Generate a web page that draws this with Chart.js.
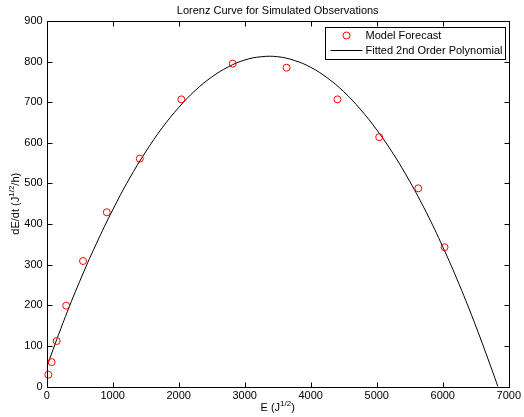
<!DOCTYPE html>
<html>
<head>
<meta charset="utf-8">
<script src="https://cdn.jsdelivr.net/npm/chart.js@4/dist/chart.umd.min.js"></script>
<style>
  html, body { margin: 0; padding: 0; background: #fff; }
  canvas { display: block; }
</style>
</head>
<body>
<canvas id="chart" width="524" height="417"></canvas>
<script>
// model forecast points
const forecastE = [25, 75, 151, 295, 550, 910, 1410, 2040, 2819, 3634, 4405, 5037, 5629, 6027]
const forecastRate = [29, 60, 112, 199, 309, 429, 561, 707, 795, 785, 707, 614, 488, 343]

// fitted curve
const fitE = [0, 250, 500, 750, 1000, 1250, 1500, 1750, 2000, 2250, 2500, 2750, 3000, 3250, 3500,
  3750, 4000, 4250, 4500, 4750, 5000, 5250, 5500, 5750, 6000, 6250, 6500, 6750, 6835]
const fitRate = [48, 158, 259, 351, 435, 511, 578, 637, 687, 729, 762, 787, 804, 812, 812,
  803, 786, 760, 726, 683, 632, 573, 505, 429, 344, 251, 149, 39, 0]

const xTicks = [0, 1000, 2000, 3000, 4000, 5000, 6000, 7000]
const yTicks = [0, 100, 200, 300, 400, 500, 600, 700, 800, 900]

const FONT = '"Liberation Sans", Arial, Helvetica, sans-serif'

function toPoints(xs, ys) {
  return xs.map((x, i) => ({ x, y: ys[i] }))
}

// draws text with a superscript part: parts = [[text, isSup], ...]
function drawRich(ctx, parts, x, y, size) {
  const supSize = Math.round(size * 0.72)
  let total = 0
  parts.forEach(([t, sup]) => {
    ctx.font = `${sup ? supSize : size}px ${FONT}`
    total += ctx.measureText(t).width
  })
  let cx = x - total / 2
  parts.forEach(([t, sup]) => {
    ctx.font = `${sup ? supSize : size}px ${FONT}`
    ctx.fillText(t, cx, sup ? y - 4 : y)
    cx += ctx.measureText(t).width
  })
}

const framePlugin = {
  id: "frame",
  afterDraw(chart) {
    const { ctx, chartArea: a, scales } = chart
    const L = Math.round(a.left) + 0.5
    const R = Math.round(a.right) + 0.5
    const T = Math.round(a.top) + 0.5
    const B = Math.round(a.bottom) + 0.5
    const tick = 5
    ctx.save()
    ctx.strokeStyle = "#000"
    ctx.lineWidth = 1
    ctx.strokeRect(L, T, R - L, B - T)
    ctx.beginPath()
    xTicks.forEach((v) => {
      const px = Math.round(scales.x.getPixelForValue(v)) + 0.5
      ctx.moveTo(px, B); ctx.lineTo(px, B - tick)
      ctx.moveTo(px, T); ctx.lineTo(px, T + tick)
    })
    yTicks.forEach((v) => {
      const py = Math.round(scales.y.getPixelForValue(v)) + 0.5
      ctx.moveTo(L, py); ctx.lineTo(L + tick, py)
      ctx.moveTo(R, py); ctx.lineTo(R - tick, py)
    })
    ctx.stroke()

    // title and axis labels
    ctx.fillStyle = "#000"
    ctx.textBaseline = "middle"
    ctx.textAlign = "center"
    ctx.font = `11px ${FONT}`
    ctx.fillText("Lorenz Curve for Simulated Observations", (a.left + a.right) / 2, 11)
    ctx.textAlign = "left"
    drawRich(ctx, [["E (J", false], ["1/2", true], [")", false]], (a.left + a.right) / 2, 408, 11)
    ctx.save()
    ctx.translate(16, (a.top + a.bottom) / 2)
    ctx.rotate(-Math.PI / 2)
    drawRich(ctx, [["dE/dt (J", false], ["1/2", true], ["/h)", false]], 0, 0, 11)
    ctx.restore()

    // legend
    const lw = 180, lh = 32
    const lx = Math.round(a.right - 3.5 - lw) + 0.5
    const ly = Math.round(a.top + 6) + 0.5
    ctx.fillStyle = "#fff"
    ctx.fillRect(lx, ly, lw, lh)
    ctx.strokeStyle = "#000"
    ctx.strokeRect(lx, ly, lw, lh)
    const ds = chart.data.datasets
    ctx.strokeStyle = "#ff0000"
    ctx.beginPath()
    ctx.arc(lx + 21, ly + 8, 3.5, 0, Math.PI * 2)
    ctx.stroke()
    ctx.strokeStyle = "#000"
    ctx.beginPath()
    ctx.moveTo(lx + 5, ly + 23); ctx.lineTo(lx + 37, ly + 23)
    ctx.stroke()
    ctx.fillStyle = "#000"
    ctx.font = `11px ${FONT}`
    ctx.textAlign = "left"
    ctx.fillText(ds[0].label, lx + 40, ly + 8.5)
    ctx.fillText(ds[1].label, lx + 40, ly + 23.5)
    ctx.restore()
  }
}

new Chart(document.getElementById("chart"), {
  type: "scatter",
  data: {
    datasets: [
      {
        label: "Model Forecast",
        data: toPoints(forecastE, forecastRate),
        pointStyle: "circle",
        pointRadius: 3.5,
        pointBorderWidth: 1,
        borderColor: "#ff0000",
        backgroundColor: "rgba(0,0,0,0)",
        showLine: false,
        clip: false,
        order: 0
      },
      {
        label: "Fitted 2nd Order Polynomial",
        data: toPoints(fitE, fitRate),
        showLine: true,
        borderColor: "#000",
        borderWidth: 1,
        pointRadius: 0,
        tension: 0.4,
        order: 1
      }
    ]
  },
  options: {
    responsive: false,
    animation: false,
    layout: { padding: { top: 21, right: 14, left: 0, bottom: 0 } },
    plugins: {
      legend: { display: false },
      tooltip: { enabled: false }
    },
    scales: {
      x: {
        type: "linear",
        min: 0,
        max: 7000,
        afterBuildTicks: (s) => { s.ticks = xTicks.map((v) => ({ value: v })) },
        afterFit: (s) => { s.height = 30.5 },
        grid: { display: false, drawTicks: false },
        border: { display: false },
        ticks: {
          color: "#000", font: { family: FONT, size: 11 }, padding: 3, maxRotation: 0,
          callback: (v) => String(v)
        }
      },
      y: {
        type: "linear",
        min: 0,
        max: 900,
        afterBuildTicks: (s) => { s.ticks = yTicks.map((v) => ({ value: v })) },
        afterFit: (s) => { s.width = 46.7 },
        grid: { display: false, drawTicks: false },
        border: { display: false },
        ticks: {
          color: "#000", font: { family: FONT, size: 11 }, padding: 4,
          callback: (v) => String(v)
        }
      }
    }
  },
  plugins: [framePlugin]
})
</script>
</body>
</html>
